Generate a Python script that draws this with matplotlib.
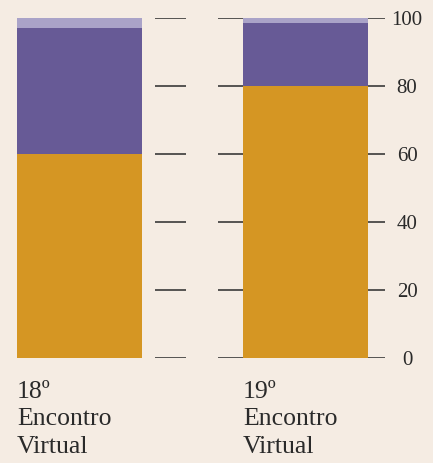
import matplotlib.pyplot as plt
import matplotlib.transforms as mtransforms
import numpy as np

plt.rcParams['font.family'] = ['Liberation Serif', 'DejaVu Serif']

categories = ["18º\nEncontro\nVirtual", "19º\nEncontro\nVirtual"]
bottom_part = [60, 80]
middle_part = [37, 18.5]
top_part = [3, 1.5]
yticks = [0, 20, 40, 60, 80, 100]

bg = "#f5ece3"
c_orange = "#d59623"
c_purple = "#675a96"
c_light = "#aaa3c8"

fig = plt.figure(figsize=(4.33, 4.63), dpi=100, facecolor=bg)
ax = fig.add_axes([16/433, 105/463, 369/433, 340/463])
ax.set_facecolor(bg)

x = np.arange(len(categories))
w = 125/226
b1 = np.array(bottom_part)
b2 = b1 + np.array(middle_part)

# short grid segments between / right of the bars
for t in yticks:
    ax.hlines(t, 0.334, 0.471, color="#2a2a2a", lw=1.1, zorder=1)
    ax.hlines(t, 0.613, 1.352, color="#2a2a2a", lw=1.1, zorder=1)

ax.bar(x, bottom_part, w, color=c_orange, zorder=2)
ax.bar(x, middle_part, w, bottom=b1, color=c_purple, zorder=2)
ax.bar(x, top_part, w, bottom=b2, color=c_light, zorder=2)

ax.set_xlim(-0.281, 1.352)
ax.set_ylim(0, 100)
ax.set_xticks([])
ax.set_yticks([])
for s in ax.spines.values():
    s.set_visible(False)

# y labels on the right
trans_y = mtransforms.blended_transform_factory(fig.transFigure, ax.transData)
trans_y = mtransforms.offset_copy(trans_y, fig=fig, y=-2.5, units="dots")
for t in yticks:
    fig.text(407/433, t, str(t), transform=trans_y, ha="center", va="center",
             fontsize=15, color="#2a2a2a")

# category labels below bars
trans_x = mtransforms.blended_transform_factory(ax.transData, fig.transFigure)
for xi, lab in zip(x, categories):
    ax.text(xi - w/2, 1 - 381/463, lab, transform=trans_x, ha="left", va="top",
            fontsize=18.5, color="#2a2a2a", linespacing=1.32)

fig.savefig("out.png", dpi=100, facecolor=bg)
